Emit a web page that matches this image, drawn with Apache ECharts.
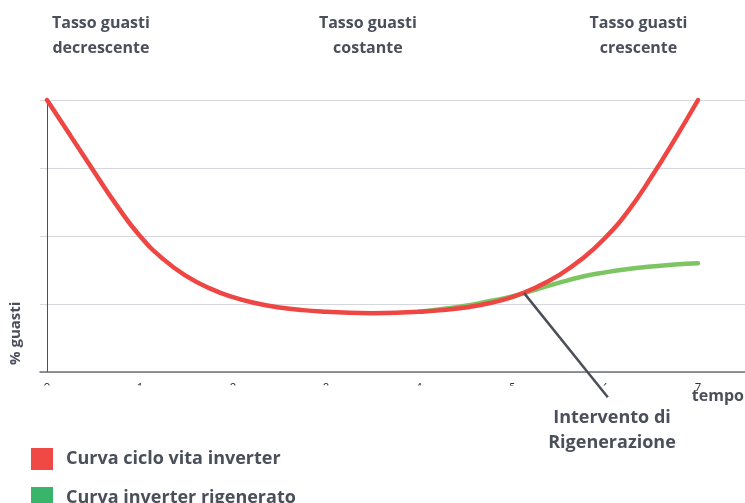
<!DOCTYPE html>
<html>
<head>
<meta charset="utf-8">
<script src="https://cdn.jsdelivr.net/npm/echarts@6/dist/echarts.min.js"></script>
<style>
html,body{margin:0;padding:0;background:#fff;}
#c{width:745px;height:503px;}
</style>
</head>
<body>
<div id="c"></div>
<script>
// ---- data ----
const redX = [0, 0.25, 0.5, 0.75, 1, 1.25, 1.5, 1.75, 2, 2.25, 2.5, 2.75, 3, 3.25, 3.5, 3.75, 4, 4.25, 4.5, 4.75, 5, 5.25, 5.5, 5.75, 6, 6.25, 6.5, 6.75, 7];
const redY = [4.0, 3.48, 2.96, 2.45, 2.0, 1.66, 1.41, 1.23, 1.10, 1.01, 0.95, 0.91, 0.885, 0.87, 0.865, 0.87, 0.885, 0.91, 0.95, 1.01, 1.10, 1.24, 1.42, 1.66, 1.97, 2.37, 2.87, 3.42, 4.0];
const greenX = [4.0, 4.25, 4.5, 4.75, 5.0, 5.25, 5.5, 5.75, 6.0, 6.25, 6.5, 6.75, 7.0];
const greenY = [0.885, 0.925, 0.975, 1.04, 1.11, 1.21, 1.31, 1.40, 1.465, 1.515, 1.55, 1.58, 1.60];
const tickValues = [0, 1, 2, 3, 4, 5, 6, 7];
const phaseBounds = [1.69, 5.13];
const phaseTitles = [['Tasso guasti', 'decrescente'], ['Tasso guasti', 'costante'], ['Tasso guasti', 'crescente']];
const phaseCenters = [0.58, 3.45, 6.36];
const annotStart = [5.13, 1.16];
const annotEnd = [6.03, -0.37];
const annotText = ['Intervento di', 'Rigenerazione'];
const seriesNames = ['Curva ciclo vita inverter', 'Curva inverter rigenerato'];

const TXT = '#4a4f5a';
const FONT = '"Open Sans"';

const chart = echarts.init(document.getElementById('c'));
const toPts = (xs, ys) => xs.map((x, i) => [x, ys[i]]);
const legendStyle = {fontFamily: 'Open Sans', fontWeight: 'bold', fontSize: 18, color: TXT, padding: [0, 0, 0, 8]};

chart.setOption({
  animation: false,
  grid: {left: 40, right: 0, top: 100, bottom: 131},
  xAxis: {
    type: 'value', min: -0.075, max: 7.505,
    axisLine: {show: true, lineStyle: {color: '#6e717a', width: 1.5}},
    axisTick: {show: false},
    splitLine: {show: false},
    axisLabel: {show: true, customValues: tickValues, fontSize: 11, color: '#333', margin: 10, fontFamily: 'Lato'}
  },
  yAxis: {
    type: 'value', min: 0, max: 4, interval: 1,
    axisLine: {show: true, onZero: true, lineStyle: {color: '#4b5058', width: 1}},
    axisTick: {show: false},
    axisLabel: {show: false},
    splitLine: {show: true, lineStyle: {color: '#d6d7dc', width: 1.2}}
  },
  legend: [
    {left: 26, top: 443, itemWidth: 22, itemHeight: 22, icon: 'rect', textStyle: legendStyle,
      data: [{name: seriesNames[0], itemStyle: {color: '#ef4845'}}]},
    {left: 26, top: 482, itemWidth: 22, itemHeight: 22, icon: 'rect', textStyle: legendStyle,
      data: [{name: seriesNames[1], itemStyle: {color: '#38b56a'}}]}
  ],
  series: [
    {
      name: seriesNames[1], type: 'line', smooth: 0.5, symbol: 'none', z: 2, clip: false,
      data: toPts(greenX, greenY),
      lineStyle: {color: '#7cc562', width: 4.5, cap: 'round'},
      itemStyle: {color: '#38b56a'}
    },
    {
      name: seriesNames[0], type: 'line', smooth: 0.5, symbol: 'none', z: 3, clip: false,
      data: toPts(redX, redY),
      lineStyle: {color: '#ee4643', width: 4.5, cap: 'round'},
      itemStyle: {color: '#ef4845'},
      markLine: {
        silent: true, symbol: 'none', label: {show: false},
        lineStyle: {color: '#4b5058', type: [5, 3], width: 1.5},
        data: phaseBounds.map(b => [{coord: [b, -0.09]}, {coord: [b, 4.07]}])
      }
    }
  ]
});

function centeredLine(text, cx, cy, size) {
  return {type: 'text', z: 100, x: cx, y: cy,
    style: {text: text, fill: TXT, font: 'bold ' + size + 'px ' + FONT, textAlign: 'center', textVerticalAlign: 'middle'}};
}

function drawGraphics() {
  const p0 = chart.convertToPixel({gridIndex: 0}, annotStart);
  const p1 = chart.convertToPixel({gridIndex: 0}, annotEnd);
  const elems = [
    {type: 'rect', z: 50, shape: {x: 35, y: 385.5, width: 660, height: 14}, style: {fill: '#fff'}},
    {type: 'line', z: 100, shape: {x1: p0[0], y1: p0[1], x2: p1[0], y2: p1[1]}, style: {stroke: '#4b5058', lineWidth: 2.5}},
    centeredLine(annotText[0], 612, 418, 18),
    centeredLine(annotText[1], 612, 443, 18),
    {type: 'text', z: 100, x: 744, y: 396,
      style: {text: 'tempo', fill: TXT, font: 'bold 16px ' + FONT, textAlign: 'right', textVerticalAlign: 'middle'}},
    {type: 'text', z: 100, x: 8, y: 365, rotation: Math.PI / 2,
      style: {text: '% guasti', fill: TXT, font: 'bold 15px ' + FONT, textAlign: 'left', textVerticalAlign: 'top'}}
  ];
  phaseTitles.forEach((lines, i) => {
    const px = chart.convertToPixel({gridIndex: 0}, [phaseCenters[i], 0])[0];
    elems.push(centeredLine(lines[0], px, 23, 16));
    elems.push(centeredLine(lines[1], px, 48, 16));
  });
  chart.setOption({graphic: elems});
}
drawGraphics();
</script>
</body>
</html>
